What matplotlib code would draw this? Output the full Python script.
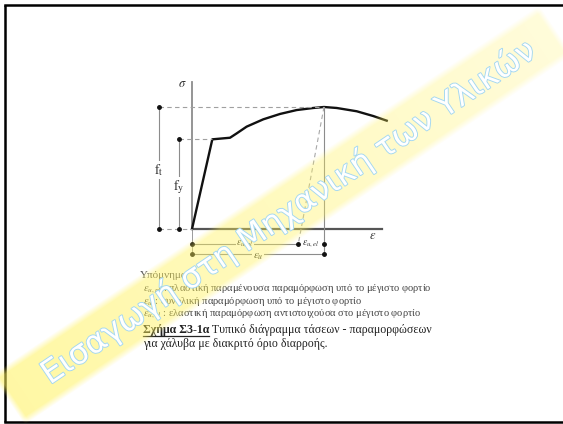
import numpy as np
import matplotlib.pyplot as plt
import matplotlib.patheffects as pe

plt.rcParams['mathtext.fontset'] = 'stix'

# stress-strain curve, strain scaled to eps_u, stress scaled to f_t
eps_curve = [0.0, 0.154, 0.288, 0.339, 0.414, 0.540, 0.667, 0.793, 0.919, 1.0, 1.096, 1.248, 1.373, 1.475]
sig_curve = [0.0, 0.735, 0.748, 0.784, 0.839, 0.899, 0.943, 0.975, 0.992, 1.0, 0.992, 0.965, 0.926, 0.888]
f_t = 1.0
f_y = 0.735
eps_u = 1.0
eps_pl = 0.805

legend_title = 'Υπόμνημα'
legend_lines = [
    r'$\varepsilon_{u,pl}$ : πλαστική παραμένουσα παραμόρφωση υπό το μέγιστο φορτίο',
    r'$\varepsilon_{u}$ : συνολική παραμόρφωση υπό το μέγιστο φορτίο',
    r'$\varepsilon_{u,el}$ : ελαστική παραμόρφωση αντιστοιχούσα στο μέγιστο φορτίο',
]
caption_bold = 'Σχήμα Σ3-1α'
caption_rest = ' Τυπικό διάγραμμα τάσεων - παραμορφώσεων'
caption_line2 = 'για χάλυβα με διακριτό όριο διαρροής.'
watermark = 'Εισαγωγή στη Μηχανική των Υλικών'

W, H = 563, 424
fig = plt.figure(figsize=(W / 100, H / 100), dpi=100)
fig.patch.set_facecolor('white')

# background axes in pixel units
ax_bg = fig.add_axes([0, 0, 1, 1])
ax_bg.set_xlim(0, W)
ax_bg.set_ylim(H, 0)
ax_bg.axis('off')

# frame
ax_bg.plot([5, 5], [5, 421.5], color='black', lw=1.8, solid_capstyle='butt')
ax_bg.plot([5, W], [5, 5], color='black', lw=1.8)
ax_bg.plot([5, W], [421.5, 421.5], color='black', lw=1.8)

# diagram axes
x0, x1, y0, y1 = 140, 400, 75, 265
ox, oy, sx, sy = 192, 229, 132, 122
ax = fig.add_axes([x0 / W, 1 - y1 / H, (x1 - x0) / W, (y1 - y0) / H])
ax.set_xlim((x0 - ox) / sx, (x1 - ox) / sx)
ax.set_ylim((oy - y1) / sy, (oy - y0) / sy)
ax.axis('off')
ax.patch.set_alpha(0)

grey = '#8c8c8c'
dash = (0, (4, 3))
xt, xy = -0.25, -0.10
d1, d2 = -0.123, -0.207

ax.plot([0, 0], [0, 1.205], color=grey, lw=1.3)
ax.plot([0, 1.44], [0, 0], color='#555555', lw=1.6)
ax.plot(eps_curve, sig_curve, color='#111111', lw=1.7, solid_joinstyle='round')

ax.plot([xt, eps_u], [f_t, f_t], color='#a0a0a0', lw=0.8, ls=dash)
ax.plot([xy, eps_curve[1]], [f_y, f_y], color='#a0a0a0', lw=0.8, ls=dash)
ax.plot([xt, 0], [0, 0], color='#a0a0a0', lw=0.8, ls=dash)
ax.plot([xt, xt], [0, f_t], color=grey, lw=0.8)
ax.plot([xy, xy], [0, f_y], color=grey, lw=0.8)
ax.plot([xt, xt, xy, xy], [0, f_t, 0, f_y], 'o', ms=2.5, color='#111111')

ax.plot([eps_u, eps_u], [f_t, d2], color=grey, lw=0.8)
ax.plot([0, 0], [0, d2], color=grey, lw=0.6)
ax.plot([eps_u, eps_pl], [f_t, d1], color='#a8a8a8', lw=0.8, ls=dash)

ax.plot([0, eps_pl], [d1, d1], color=grey, lw=0.8)
ax.plot([0, eps_u], [d2, d2], color=grey, lw=0.8)
ax.plot([0, eps_pl, eps_u, 0, eps_u], [d1, d1, d1, d2, d2], 'o', ms=2.5, color='#111111')

lab = dict(color='#333333', ha='center', va='center')
ax.text(-0.07, 1.19, r'$\sigma$', fontsize=9, **lab)
ax.text(1.37, -0.057, r'$\varepsilon$', fontsize=9, **lab)
ax.text(xt, 0.484, r'$\mathrm{f}_{\mathrm{t}}$', fontsize=10,
        bbox=dict(fc='white', ec='none', pad=0.5), **lab)
ax.text(xy, 0.344, r'$\mathrm{f}_{\mathrm{y}}$', fontsize=10,
        bbox=dict(fc='white', ec='none', pad=0.5), **lab)
ax.text(eps_pl / 2, d1, r'$\varepsilon_{u,pl}$', fontsize=7,
        bbox=dict(fc='white', ec='none', pad=0.3), **lab)
ax.text((eps_pl + eps_u) / 2, d1, r'$\varepsilon_{u,el}$', fontsize=7,
        bbox=dict(fc='white', ec='none', pad=0.3), **lab)
ax.text(eps_u / 2, d2 - 0.02, r'$\varepsilon_{u}$', fontsize=8,
        bbox=dict(fc='white', ec='none', pad=0.6), **lab)

# legend text block
serif = 'Liberation Serif'
ax_bg.text(140, 275, legend_title, family=serif, fontsize=8, color='#555555', va='center')
for i, s in enumerate(legend_lines):
    ax_bg.text(143, 289.5 + 12.2 * i, s, family=serif, fontsize=7.55, color='#444444', va='center')

t_bold = ax_bg.text(143, 330, caption_bold, family=serif, fontsize=8.6, weight='bold',
                    color='#222222', va='center')
fig.canvas.draw()
r = fig.canvas.get_renderer()
bb = t_bold.get_window_extent(r).transformed(ax_bg.transData.inverted())
ax_bg.plot([bb.x0, bb.x1], [335.5, 335.5], color='#222222', lw=0.9)
ax_bg.text(bb.x1, 330, caption_rest, family=serif, fontsize=8.6, color='#222222', va='center')
ax_bg.text(143, 344, caption_line2, family=serif, fontsize=8.5, color='#222222', va='center')

# watermark band on top
ax_w = fig.add_axes([0, 0, 1, 1], zorder=5)
ax_w.set_xlim(0, W)
ax_w.set_ylim(H, 0)
ax_w.axis('off')
ax_w.patch.set_alpha(0)

p0 = np.array([8.0, 400.0])
p1 = np.array([556.0, 30.0])
L = np.linalg.norm(p1 - p0)
d = (p1 - p0) / L
n = np.array([-d[1], d[0]])
hw = 30

gx, gy = np.meshgrid(np.arange(W) + 0.5, np.arange(H) + 0.5)
t = ((gx - p0[0]) * d[0] + (gy - p0[1]) * d[1]) / L
dist = np.abs((gx - p0[0]) * n[0] + (gy - p0[1]) * n[1])
edge = np.clip((hw - dist) / 7, 0, 1) * np.clip(t * L / 6, 0, 1) * np.clip((1 - t) * L / 6, 0, 1)
rgba = np.zeros((H, W, 4))
rgba[..., 0] = 1.0
rgba[..., 1] = 0.95
rgba[..., 2] = 0.35
rgba[..., 3] = np.clip(0.55 - 0.33 * t, 0.2, 0.6) * edge
ax_w.imshow(rgba, extent=(0, W, H, 0), interpolation='bilinear', aspect='auto')

ang = np.degrees(np.arctan2(-(p1[1] - p0[1]), p1[0] - p0[0]))
ax_w.text(289, 212, watermark, rotation=ang, rotation_mode='anchor', ha='center', va='center',
          fontsize=23, color='white', family='DejaVu Sans',
          path_effects=[pe.withStroke(linewidth=1.3, foreground='#a3d7f1')])

fig.savefig('out.png', dpi=100)
